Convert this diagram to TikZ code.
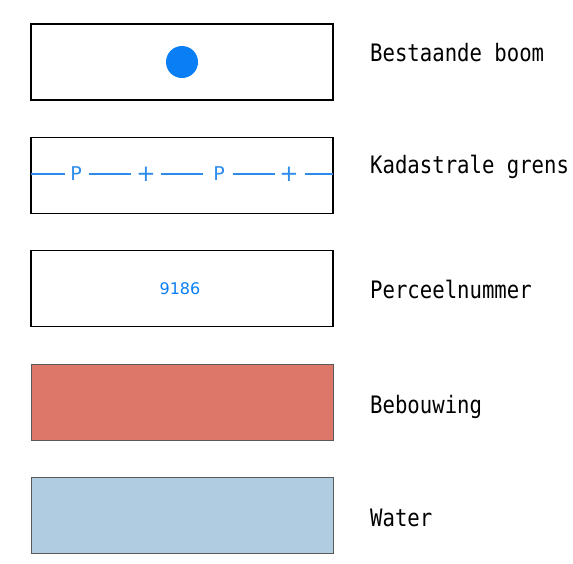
\documentclass[tikz,border=0pt]{standalone}
\usepackage{fontspec}
\setmainfont{DejaVu Sans Mono}[FakeStretch=0.86]
\newfontfamily\mapfont{DejaVu Sans}
\definecolor{mapblue}{HTML}{0A7EF5}
\definecolor{lineblue}{HTML}{2D8CEB}
\definecolor{buildred}{HTML}{DC7769}
\definecolor{waterblue}{HTML}{AFCCE0}
\begin{document}
\begin{tikzpicture}[x=1pt,y=-1pt,
  legbox/.style={draw, line width=1.3pt, rectangle, minimum width=302pt, minimum height=76pt, inner sep=0pt},
  fillbox/.style={draw=gray!70!black, line width=.6pt, rectangle, minimum width=302pt, minimum height=76pt, inner sep=0pt},
  legtext/.style={anchor=base west, font=\fontsize{24}{26}\selectfont, inner sep=0pt},
  kadmark/.style={text=lineblue, font=\mapfont\fontsize{19}{20}\selectfont, inner sep=0pt},
  kadplus/.style={text=lineblue, font=\mapfont\fontsize{23}{24}\selectfont, inner sep=0pt}]
\useasboundingbox (0,0) rectangle (573,563);

% boxes
\node (boom) at (182,62) [legbox] {};
\node (grens) at (182,175.5) [legbox] {};
\node (perceel) at (182,288.5) [legbox] {};
\node (bebouwing) at (182,402) [fillbox, fill=buildred] {};
\node (water) at (182,515) [fillbox, fill=waterblue] {};

% symbols
\node (dot) at (182,62) [circle, fill=mapblue, minimum size=32pt, inner sep=0pt] {};
\node (nummer) at (180,289) [text=mapblue, font=\mapfont\fontsize{16}{17}\selectfont] {9186};

\coordinate (g0) at (31,174);
\coordinate (g5) at (333,174);
\node (p1) at (76,174) [kadmark] {P};
\node (k1) at (146,174) [kadplus] {+};
\node (p2) at (219,174) [kadmark] {P};
\node (k2) at (289,174) [kadplus] {+};
\draw[lineblue, line width=1.2pt]
(g0) -- ([xshift=-11pt]p1.center)
([xshift=13pt]p1.center) -- ([xshift=-15pt]k1.center)
([xshift=15pt]k1.center) -- ([xshift=-16pt]p2.center)
([xshift=14pt]p2.center) -- ([xshift=-14pt]k2.center)
([xshift=16pt]k2.center) -- (g5);

% labels
\node (lboom) at (370,61) [legtext] {Bestaande boom};
\node (lgrens) at (370,173) [legtext] {Kadastrale grens};
\node (lperceel) at (370,298) [legtext] {Perceelnummer};
\node (lbebouwing) at (370,413) [legtext] {Bebouwing};
\node (lwater) at (370,526) [legtext] {Water};
\end{tikzpicture}
\end{document}
